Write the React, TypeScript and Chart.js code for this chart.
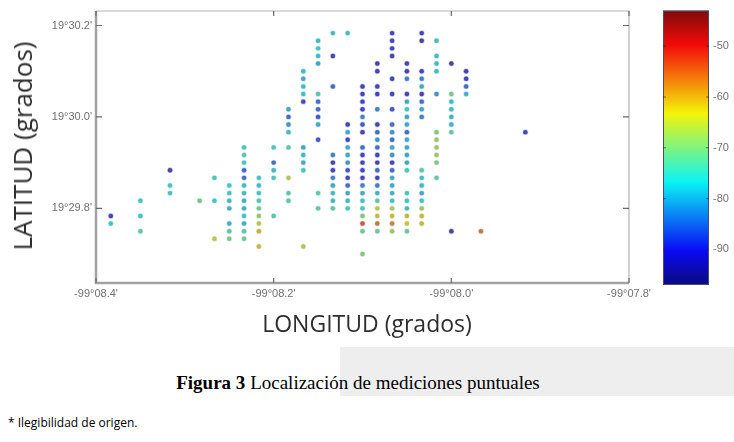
import React, { useEffect, useRef } from "react";
import { Chart, registerables } from "chart.js";
Chart.register(...registerables);

// Longitude: arc-seconds relative to -99°08'00" (negative = further west)
const columnLongitude = [-23, -21, -19, -17, -16, -15, -14, -13, -12, -11, -10, -9, -8, -7, -6, -5, -4, -3, -2, -1, 0, 1, 2, 5];

// Latitude: arc-seconds after 19°29'00", one list per longitude column
const columnLatitudes: number[][] = [
  [47, 46],
  [49, 47, 45],
  [53, 51, 50],
  [49],
  [52, 49, 44],
  [51, 50, 49, 48, 46, 45, 44],
  [56, 55, 54, 53, 52, 51, 50, 49, 48, 47, 46, 45, 44],
  [52, 51, 50, 49, 48, 47, 46, 45, 43],
  [56, 54, 53, 52, 47],
  [61, 60, 59, 58, 56, 52, 50, 49],
  [66, 65, 64, 63, 62, 56, 55, 54, 53, 43],
  [70, 69, 68, 67, 63, 62, 61, 60, 59, 57, 50, 48],
  [71, 68, 64, 55, 54, 53, 52, 51, 50, 49, 48],
  [71, 59, 58, 57, 56, 55, 54, 53, 52, 51, 50, 49, 48],
  [64, 63, 62, 61, 60, 59, 58, 56, 55, 54, 53, 52, 51, 50, 49, 48, 47, 46, 45, 42],
  [67, 66, 64, 63, 61, 59, 58, 57, 56, 55, 54, 53, 52, 51, 50, 49, 48, 47, 46, 45],
  [71, 70, 69, 68, 65, 63, 61, 59, 58, 57, 56, 55, 54, 53, 52, 51, 50, 49, 48, 47, 46, 45],
  [67, 66, 65, 63, 62, 61, 60, 59, 58, 57, 56, 55, 54, 53, 50, 49, 48, 47, 46, 45],
  [71, 70, 66, 65, 64, 63, 62, 61, 60, 53, 52, 51, 50, 49, 48, 47, 46],
  [70, 68, 67, 66, 63, 58, 57, 56, 55, 54, 52],
  [67, 63, 62, 61, 60, 59, 58, 45],
  [66, 65, 64, 63],
  [45],
  [58],
];

// Measured level (dBm), matching columnLatitudes
const columnLevels: number[][] = [
  [-93, -77],
  [-77, -77, -74],
  [-93, -76, -77],
  [-72],
  [-76, -77, -64],
  [-76, -77, -78, -79, -79, -74, -70],
  [-76, -74, -76, -86, -86, -78, -78, -79, -79, -77, -79, -74, -72],
  [-77, -78, -77, -75, -72, -68, -65, -61, -62],
  [-76, -86, -78, -76, -74],
  [-80, -86, -82, -78, -74, -66, -74, -74],
  [-78, -80, -78, -78, -90, -80, -78, -80, -76, -66],
  [-78, -77, -78, -80, -74, -86, -86, -88, -80, -88, -74, -74],
  [-78, -93, -86, -84, -93, -91, -84, -80, -78, -78, -74],
  [-78, -93, -80, -90, -80, -80, -82, -88, -92, -86, -80, -78, -76],
  [-93, -93, -91, -91, -84, -88, -92, -86, -91, -93, -90, -92, -84, -80, -77, -76, -70, -52, -72, -70],
  [-93, -93, -92, -92, -84, -92, -86, -82, -86, -92, -93, -86, -92, -84, -79, -74, -64, -62, -55, -72],
  [-91, -91, -91, -93, -93, -92, -88, -86, -82, -86, -80, -82, -92, -86, -80, -80, -79, -77, -66, -62, -56, -68],
  [-93, -92, -84, -92, -80, -76, -80, -80, -86, -80, -80, -80, -80, -76, -76, -77, -78, -62, -63, -72],
  [-92, -95, -92, -84, -80, -92, -86, -80, -84, -74, -78, -78, -80, -77, -68, -62, -62],
  [-78, -78, -78, -78, -82, -70, -68, -67, -67, -70, -74],
  [-95, -71, -78, -78, -79, -79, -73, -95],
  [-93, -93, -86, -79],
  [-55],
  [-90],
];

const lonTicks = [-24, -12, 0, 12];
const latTicks = [48, 60, 72];
const levelTicks = [-90, -80, -70, -60, -50];
const levelMin = -97;
const levelMax = -43;

function jet(t: number): number[] {
  const c = (v: number) => Math.max(0, Math.min(1, v));
  return [c(1.5 - Math.abs(4 * t - 3)), c(1.5 - Math.abs(4 * t - 2)), c(1.5 - Math.abs(4 * t - 1))];
}

function dotColor(v: number, alpha: number): string {
  const t = (v - levelMin) / (levelMax - levelMin);
  const [r, g, b] = jet(t);
  const m = 0.46;
  const gray = 118;
  const rr = Math.round(r * 255 * (1 - m) + gray * m);
  const gg = Math.round(g * 255 * (1 - m) + gray * m);
  const bb = Math.round(b * 255 * (1 - m) + gray * m);
  return `rgba(${rr},${gg},${bb},${alpha})`;
}

function fmtLon(v: number): string {
  const m = 8 - v / 60;
  const s = m.toFixed(1);
  return "-99°" + (m < 10 ? "0" : "") + s + "'";
}

function fmtLat(v: number): string {
  const m = 29 + v / 60;
  return "19°" + m.toFixed(1) + "'";
}

const framePlugin = {
  id: "frame",
  afterDatasetsDraw(chart: any) {
    const { ctx, chartArea: a, scales } = chart;
    ctx.save();
    ctx.strokeStyle = "#b4b4b4";
    ctx.lineWidth = 1.2;
    ctx.beginPath();
    ctx.moveTo(a.left, a.top);
    ctx.lineTo(a.right, a.top);
    ctx.lineTo(a.right, a.bottom);
    ctx.stroke();
    ctx.strokeStyle = "#a2a2a2";
    ctx.lineWidth = 2.5;
    ctx.beginPath();
    ctx.moveTo(a.left, a.top);
    ctx.lineTo(a.left, a.bottom);
    ctx.lineTo(a.right, a.bottom);
    ctx.stroke();
    ctx.strokeStyle = "#6a6a6a";
    ctx.lineWidth = 1.2;
    ctx.beginPath();
    for (const v of lonTicks) {
      const x = scales.x.getPixelForValue(v);
      ctx.moveTo(x, a.bottom);
      ctx.lineTo(x, a.bottom - 5);
      ctx.moveTo(x, a.top);
      ctx.lineTo(x, a.top + 5);
    }
    for (const v of latTicks) {
      const y = scales.y.getPixelForValue(v);
      ctx.moveTo(a.left, y);
      ctx.lineTo(a.left + 6, y);
      ctx.moveTo(a.right, y);
      ctx.lineTo(a.right - 6, y);
    }
    ctx.stroke();
    ctx.restore();
  },
};

const colorbarPlugin = {
  id: "colorbar",
  beforeDatasetsDraw(chart: any) {
    const { ctx, chartArea: a, scales } = chart;
    ctx.save();
    const grad = ctx.createLinearGradient(0, a.bottom, 0, a.top);
    const n = 40;
    for (let i = 0; i <= n; i++) {
      const [r, g, b] = jet(i / n);
      const m = 0.08;
      grad.addColorStop(
        i / n,
        `rgb(${Math.round(r * 255 * (1 - m) + 120 * m)},${Math.round(g * 255 * (1 - m) + 120 * m)},${Math.round(b * 255 * (1 - m) + 120 * m)})`
      );
    }
    ctx.fillStyle = grad;
    ctx.fillRect(a.left, a.top, a.right - a.left, a.bottom - a.top);
    ctx.strokeStyle = "#4a4a6a";
    ctx.lineWidth = 1;
    ctx.strokeRect(a.left + 0.5, a.top + 0.5, a.right - a.left - 1, a.bottom - a.top - 1);
    ctx.strokeStyle = "rgba(40,40,40,0.6)";
    ctx.beginPath();
    for (const v of levelTicks) {
      const y = scales.y.getPixelForValue(v);
      ctx.moveTo(a.left, y);
      ctx.lineTo(a.left + 3, y);
      ctx.moveTo(a.right, y);
      ctx.lineTo(a.right - 3, y);
    }
    ctx.stroke();
    ctx.restore();
  },
};

export default function App() {
  const mainRef = useRef<HTMLCanvasElement | null>(null);
  const barRef = useRef<HTMLCanvasElement | null>(null);

  useEffect(() => {
    const points: any[] = [];
    const fills: string[] = [];
    const halos: string[] = [];
    columnLongitude.forEach((lon, ci) => {
      columnLatitudes[ci].forEach((lat, ri) => {
        const lev = columnLevels[ci][ri];
        points.push({ x: lon, y: lat });
        fills.push(dotColor(lev, 0.92));
        halos.push(dotColor(lev, 0.28));
      });
    });

    const tickFont = { family: "'Liberation Sans', Arial, sans-serif", size: 11 };

    const main = new Chart(mainRef.current as HTMLCanvasElement, {
      type: "scatter",
      data: {
        datasets: [
          {
            data: points,
            pointRadius: 2.2,
            pointHoverRadius: 2.2,
            pointBackgroundColor: fills,
            pointBorderColor: halos,
            pointBorderWidth: 1.4,
          },
        ],
      },
      options: {
        animation: false,
        responsive: false,
        events: [],
        plugins: { legend: { display: false }, tooltip: { enabled: false } },
        layout: { padding: { left: 0, right: 105, top: 11, bottom: 0 } },
        scales: {
          x: {
            type: "linear",
            min: -24,
            max: 12,
            afterBuildTicks: (s: any) => {
              s.ticks = lonTicks.map((v) => ({ value: v }));
            },
            afterFit: (s: any) => {
              s.height = 27;
            },
            grid: { display: false, drawTicks: false },
            border: { display: false },
            ticks: {
              callback: (v: any) => fmtLon(Number(v)),
              font: tickFont,
              color: "#707070",
              padding: 4,
              maxRotation: 0,
              autoSkip: false,
            },
          },
          y: {
            type: "linear",
            min: 38.2,
            max: 73.9,
            afterBuildTicks: (s: any) => {
              s.ticks = latTicks.map((v) => ({ value: v }));
            },
            afterFit: (s: any) => {
              s.width = 96;
            },
            grid: { display: false, drawTicks: false },
            border: { display: false },
            ticks: {
              callback: (v: any) => fmtLat(Number(v)),
              font: tickFont,
              color: "#707070",
              padding: 4,
              autoSkip: false,
            },
          },
        },
      } as any,
      plugins: [framePlugin],
    });

    const bar = new Chart(barRef.current as HTMLCanvasElement, {
      type: "scatter",
      data: { datasets: [] },
      options: {
        animation: false,
        responsive: false,
        events: [],
        plugins: { legend: { display: false }, tooltip: { enabled: false } },
        layout: { padding: { left: 23, right: 0, top: 9, bottom: 15 } },
        scales: {
          x: { display: false, min: 0, max: 1 },
          y: {
            type: "linear",
            position: "right",
            min: levelMin,
            max: levelMax,
            afterBuildTicks: (s: any) => {
              s.ticks = levelTicks.map((v) => ({ value: v }));
            },
            afterFit: (s: any) => {
              s.width = 25;
            },
            grid: { display: false, drawTicks: false },
            border: { display: false },
            ticks: { font: { family: "'Liberation Sans', Arial, sans-serif", size: 11 }, color: "#707070", padding: 4 },
          },
        },
      } as any,
      plugins: [colorbarPlugin],
    });

    return () => {
      main.destroy();
      bar.destroy();
    };
  }, []);

  return (
    <div style={{ position: "fixed", left: 0, top: 0, width: 734, height: 442, background: "#ffffff", overflow: "hidden" }}>
      <div style={{ position: "absolute", left: 340, top: 347, width: 394, height: 49, background: "#eeeeee" }} />
      <canvas ref={mainRef} width={734} height={310} style={{ position: "absolute", left: 0, top: 0, width: 734, height: 310 }} />
      <canvas ref={barRef} width={94} height={300} style={{ position: "absolute", left: 640, top: 0, width: 94, height: 300 }} />
      <div
        style={{
          position: "absolute",
          left: 22,
          top: 146,
          transform: "translate(-50%, -50%) rotate(-90deg)",
          whiteSpace: "nowrap",
          fontFamily: "'Open Sans', sans-serif",
          fontSize: 26,
          color: "#2e2e2e",
          lineHeight: 1,
        }}
      >
        LATITUD (grados)
      </div>
      <div
        style={{
          position: "absolute",
          left: 367,
          top: 323,
          transform: "translate(-50%, -50%)",
          whiteSpace: "nowrap",
          fontFamily: "'Open Sans', sans-serif",
          fontSize: 23,
          color: "#2e2e2e",
          lineHeight: 1,
        }}
      >
        LONGITUD (grados)
      </div>
      <div
        style={{
          position: "absolute",
          left: 358,
          top: 382,
          transform: "translate(-50%, -50%)",
          whiteSpace: "nowrap",
          fontFamily: "'Liberation Serif', 'Times New Roman', serif",
          fontSize: 19,
          color: "#000",
          lineHeight: 1,
        }}
      >
        <b>Figura 3</b> Localización de mediciones puntuales
      </div>
      <div
        style={{
          position: "absolute",
          left: 8,
          top: 423,
          transform: "translate(0, -50%)",
          whiteSpace: "nowrap",
          fontFamily: "'Open Sans', sans-serif",
          fontSize: 12,
          color: "#000",
          lineHeight: 1,
        }}
      >
        * Ilegibilidad de origen.
      </div>
    </div>
  );
}
